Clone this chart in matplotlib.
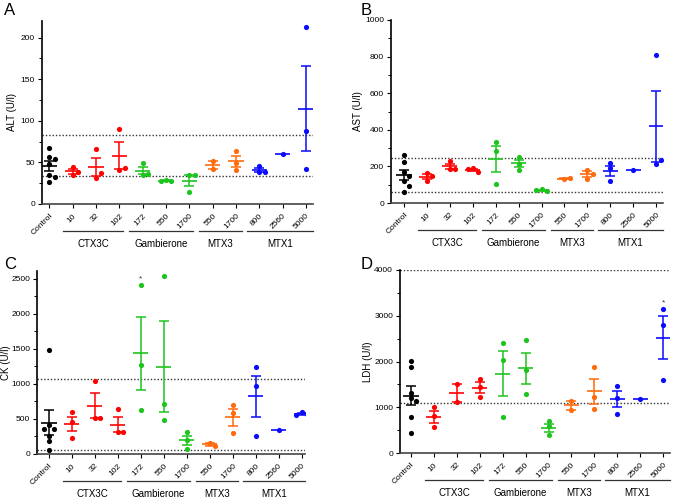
import numpy as np
import matplotlib
matplotlib.use("Agg")
import matplotlib.pyplot as plt
from matplotlib.ticker import MultipleLocator

plt.rcParams["font.family"] = ["Liberation Sans", "DejaVu Sans"]

# ------------------------------------------------------------ data
labels = ["Control", "10", "32", "102", "172", "550", "1700",
          "550", "1700", "800", "2560", "5000"]
colors = (["black"] + ["#ff0000"] * 3 + ["#1ec41e"] * 3
          + ["#ff6a0d"] * 2 + ["#0a0aff"] * 3)
group_names = ["CTX3C", "Gambierone", "MTX3", "MTX1"]

alt = [[67, 56, 54, 48, 35, 33, 27], [44.5, 35, 38.5], [66.5, 31.5, 37],
       [90.5, 41, 43], [49, 35, 36], [29, 27.6, 27.6], [35, 34.5, 14.5],
       [51.7, 42.4], [63.7, 49.7, 41], [46, 38.8, 39], [60], [213, 88, 42.5]]
ast = [[264, 222, 169, 145, 118, 95, 62], [165, 118, 147], [229, 187, 187],
       [189, 171, 185], [333, 282, 102], [254, 214, 182], [76, 64, 69],
       [129, 138], [182, 133, 160], [218, 189, 122], [178], [809, 213, 234]]
ck = [[1484, 417, 360, 360, 256, 180, 52], [593, 460, 232], [1039, 517, 517],
      [636, 313, 313], [2410, 1271, 631], [2538, 707, 484], [309, 204, 76],
      [161, 119], [697, 588, 294], [1238, 968, 261], [346], [597, 575, 550]]
ldh = [[2011, 1880, 1318, 1209, 1137, 793, 429], [997, 816, 560], [1508, 1107],
       [1624, 1434, 1216], [2396, 2032, 779], [2461, 1806, 1289], [691, 582, 386],
       [1137, 940], [1872, 1231, 954], [1471, 1194, 859], [1187], [3154, 2797, 1602]]

alt_ref = [34, 83]
ast_ref = [58, 245]
ck_ref = [60, 1070]
ldh_ref = [1100, 4000]

ck_star = [4]      # category index with significance mark
ldh_star = [11]

# ------------------------------------------------------------ layout
W, H = 677, 500
fig = plt.figure(figsize=(W / 100, H / 100), dpi=100)

spans = [(0.6, 3.15), (3.4, 6.15), (6.4, 8.25), (8.45, 11.3)]


def swarm(ax, vals, step=5.2):
    bb = ax.get_position()
    wpx = bb.width * W
    hpx = bb.height * H
    x0, x1 = ax.get_xlim()
    y0, y1 = ax.get_ylim()
    sx, sy = wpx / (x1 - x0), hpx / (y1 - y0)
    placed, offs = [], []
    for v in vals:
        y = v * sy
        for k in [0, 1, -1, 2, -2, 3, -3]:
            x = k * step
            if all((x - a) ** 2 + (y - b) ** 2 >= (step * 0.95) ** 2 for a, b in placed):
                break
        placed.append((x, y))
        offs.append(x / sx)
    return offs


def panel(rect, data, ref, ylabel, ymax, major, minor, xlim, letter, lpos,
          ylab_x, stars=()):
    ax = fig.add_axes(rect)
    ax.set_xlim(*xlim)
    ax.set_ylim(0, ymax)
    for r in ref:
        ax.axhline(r, color="#333333", lw=1.0, ls=(0, (1, 1.4)), zorder=1)
    for i, vals in enumerate(data):
        c = colors[i]
        offs = swarm(ax, vals)
        ax.scatter(np.array(offs) + i, vals, s=14, color=c, zorder=4, lw=0)
        m = np.mean(vals)
        ax.hlines(m, i - 0.33, i + 0.33, color=c, lw=1.2, zorder=3)
        if len(vals) > 1:
            sem = np.std(vals, ddof=1) / np.sqrt(len(vals))
            ax.errorbar(i, m, yerr=sem, fmt="none", ecolor=c, elinewidth=1.1,
                        capsize=3.3, capthick=1.1, zorder=3)
        if i in stars:
            ax.text(i, max(vals) + ymax * 0.012, "*", ha="center", va="bottom",
                    fontsize=6, color="#333333")
    ax.spines[["top", "right"]].set_visible(False)
    ax.spines["left"].set_linewidth(1.2)
    ax.spines["bottom"].set_linewidth(1.2)
    ax.spines["bottom"].set_color("#444444")
    ax.yaxis.set_major_locator(MultipleLocator(major))
    ax.yaxis.set_minor_locator(MultipleLocator(minor))
    ax.set_xticks(range(len(labels)))
    ax.set_xticklabels(labels, rotation=45, ha="right", rotation_mode="anchor")
    ax.tick_params(axis="both", labelsize=6, length=3, width=0.8, pad=2)
    ax.tick_params(axis="x", pad=3)
    ax.tick_params(axis="y", which="minor", length=2, width=0.7)
    ax.set_ylabel(ylabel, fontsize=7)
    ax.yaxis.set_label_coords(ylab_x, 0.5)
    hpx = rect[3] * H
    for (a, b), name in zip(spans, group_names):
        b = min(b, xlim[1])
        ax.plot([a, b], [-27 / hpx] * 2, color="#333333", lw=0.9,
                transform=ax.get_xaxis_transform(), clip_on=False)
        ax.text((a + b) / 2, -40 / hpx, name, ha="center", va="center",
                fontsize=7, transform=ax.get_xaxis_transform())
    fig.text(lpos[0] / W, 1 - lpos[1] / H, letter, fontsize=12, va="baseline")
    return ax


panel([42 / W, 1 - 204 / H, 271 / W, 183 / H], alt, alt_ref, "ALT (U/l)",
      220, 50, 25, (-0.32, 11.3), "A", (4, 15), -0.092)
panel([391 / W, 1 - 203 / H, 272 / W, 183 / H], ast, ast_ref, "AST (U/l)",
      1000, 200, 100, (-0.57, 11.3), "B", (361, 15), -0.103)
panel([37 / W, 1 - 454 / H, 268 / W, 183 / H], ck, ck_ref, "CK (U/l)",
      2610, 500, 250, (-0.52, 11.15), "C", (4, 269), -0.097, stars=ck_star)
panel([400 / W, 1 - 453 / H, 270 / W, 183 / H], ldh, ldh_ref, "LDH (U/l)",
      4000, 1000, 500, (-0.48, 11.3), "D", (361, 269), -0.1, stars=ldh_star)

fig.savefig("out.png", dpi=100)
